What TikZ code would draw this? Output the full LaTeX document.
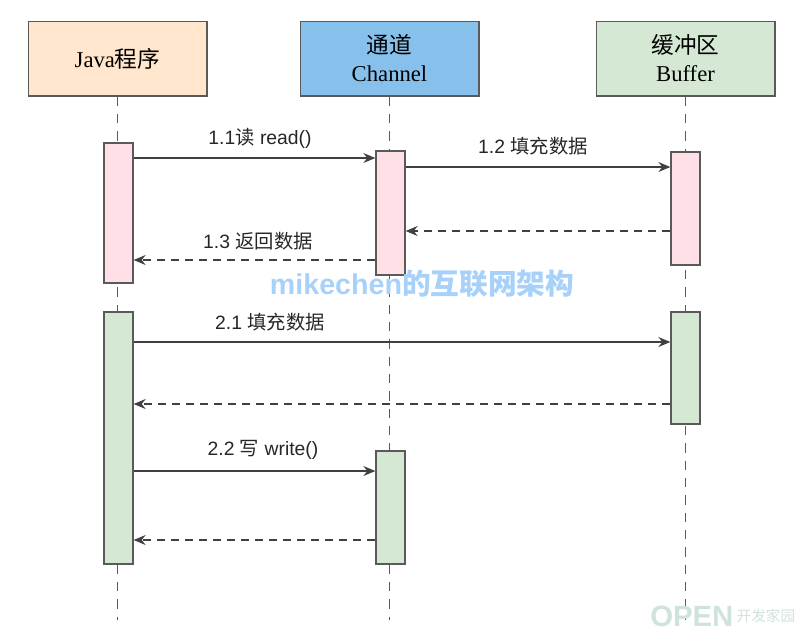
\documentclass[tikz,border=0pt]{standalone}
\usepackage{fontspec}
\setmainfont{Liberation Serif}
\setsansfont{Liberation Sans}
\newfontfamily\cjk{Noto Sans CJK SC}
\usetikzlibrary{arrows.meta,positioning}

\definecolor{linec}{HTML}{5A5A5A}
\definecolor{arrc}{HTML}{404040}
\definecolor{javaf}{HTML}{FFE6CC}
\definecolor{chanf}{HTML}{86C0EB}
\definecolor{buff}{HTML}{D5E8D4}
\definecolor{pinkf}{HTML}{FFE0E6}
\definecolor{greenf}{HTML}{D5E8D4}
\definecolor{wmblue}{HTML}{A8D1FA}
\definecolor{wmgreen}{HTML}{CFE3DA}

\begin{document}
\begin{tikzpicture}[x=0.75pt,y=-0.75pt,
  head/.style={draw=linec,line width=1pt,minimum width=134pt,minimum height=56pt,align=center,font=\fontsize{17}{21}\selectfont},
  bar/.style={draw=linec,line width=1pt,minimum width=21.75pt,inner sep=0pt},
  life/.style={draw=linec,line width=0.9pt,dash pattern=on 7pt off 6pt},
  msg/.style={draw=arrc,line width=0.9pt,-{Stealth[length=9pt,width=7.5pt,inset=3pt]}},
  ret/.style={msg,dash pattern=on 6pt off 4.5pt},
  lbl/.style={font=\sffamily\fontsize{14.5}{16}\selectfont,text=black!85,inner sep=1pt}]
  \useasboundingbox (0,0) rectangle (800,637);
  % participants
  \node[head,fill=javaf] (java) at (117.5,58.5) {Java{\cjk 程序}};
  \node[head,fill=chanf] (chan) at (389.5,58.5) {{\cjk 通道}\\Channel};
  \node[head,fill=buff] (buf) at (685.5,58.5) {{\cjk 缓冲区}\\Buffer};
  % lifelines
  \draw[life] (java.south) -- (java.south |- 0,620);
  \draw[life] (chan.south) -- (chan.south |- 0,620);
  \draw[life] (buf.south) -- (buf.south |- 0,620);
  % activations: read
  \node[bar,fill=pinkf,minimum height=105pt] (ja1) at (118.5,213) {};
  \node[bar,fill=pinkf,minimum height=93pt] (ca1) at (390.5,213) {};
  \node[bar,fill=pinkf,minimum height=84.75pt] (ba1) at (685.5,208.5) {};
  % activations: write
  \node[bar,fill=greenf,minimum height=189pt] (ja2) at (118.5,438) {};
  \node[bar,fill=greenf,minimum height=84pt] (ba2) at (685.5,368) {};
  \node[bar,fill=greenf,minimum height=84.75pt] (ca2) at (390.5,507.5) {};
  % messages
  \draw[msg] (ja1.east |- 0,158) -- (ca1.west |- 0,158);
  \node[lbl] (l11) at (260,138) {1.1{\cjk 读} read()};
  \draw[msg] (ca1.east |- 0,167) -- (ba1.west |- 0,167);
  \node[lbl] (l12) at (533,146) {1.2 {\cjk 填充数据}};
  \draw[ret] (ba1.west |- 0,231) -- (ca1.east |- 0,231);
  \draw[ret] (ca1.west |- 0,260) -- (ja1.east |- 0,260);
  \node[lbl] (l13) at (258,241) {1.3 {\cjk 返回数据}};
  \draw[msg] (ja2.east |- 0,342) -- (ba2.west |- 0,342);
  \node[lbl] (l21) at (270,322) {2.1 {\cjk 填充数据}};
  \draw[ret] (ba2.west |- 0,404) -- (ja2.east |- 0,404);
  \draw[msg] (ja2.east |- 0,471) -- (ca2.west |- 0,471);
  \node[lbl] (l22) at (263,450) {2.2 {\cjk 写} write()};
  \draw[ret] (ca2.west |- 0,540) -- (ja2.east |- 0,540);
  % watermarks
  \node[text=wmblue,font=\sffamily\bfseries\fontsize{21.5}{23}\selectfont] (wm) at (422,284) {mikechen{\cjk\bfseries 的互联网架构}};
  \node[text=wmgreen,font=\sffamily\bfseries\fontsize{22}{24}\selectfont,anchor=west,inner sep=0pt] (open) at (650,616) {OPEN};
  \node[text=wmgreen,font=\cjk\fontsize{11}{13}\selectfont,anchor=west,inner sep=0pt,right=2pt of open.east] (kf) {开发家园};
\end{tikzpicture}
\end{document}
